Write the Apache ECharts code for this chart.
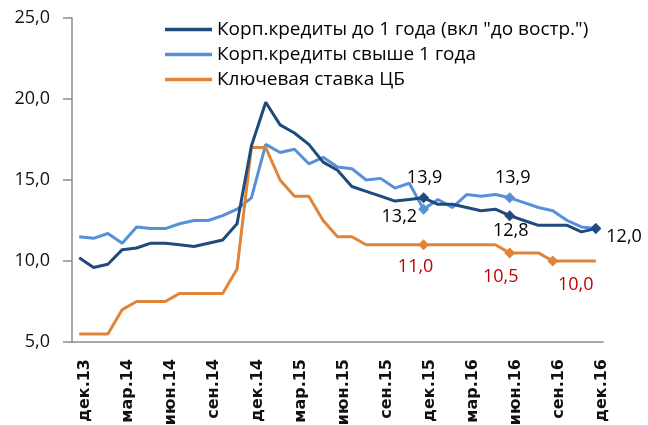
<!DOCTYPE html>
<html>
<head>
<meta charset="utf-8">
<script src="https://cdn.jsdelivr.net/npm/echarts@6/dist/echarts.min.js"></script>
<style>
  html, body { margin: 0; padding: 0; background: #fff; }
  #chart { width: 648px; height: 425px; }
</style>
</head>
<body>
<div id="chart"></div>
<script>
// months, Dec 2013 .. Dec 2016
const months = [
  "дек.13", "янв.14", "фев.14", "мар.14", "апр.14", "май.14", "июн.14", "июл.14", "авг.14",
  "сен.14", "окт.14", "ноя.14", "дек.14", "янв.15", "фев.15", "мар.15", "апр.15", "май.15",
  "июн.15", "июл.15", "авг.15", "сен.15", "окт.15", "ноя.15", "дек.15", "янв.16", "фев.16",
  "мар.16", "апр.16", "май.16", "июн.16", "июл.16", "авг.16", "сен.16", "окт.16", "ноя.16", "дек.16"
];

// Корп.кредиты до 1 года
const shortLoans = [
  10.2, 9.6, 9.8, 10.7, 10.8, 11.1, 11.1, 11.0, 10.9,
  11.1, 11.3, 12.3, 17.1, 19.8, 18.4, 17.9, 17.2, 16.1,
  15.6, 14.6, 14.3, 14.0, 13.7, 13.8, 13.9, 13.5, 13.5,
  13.3, 13.1, 13.2, 12.8, 12.5, 12.2, 12.2, 12.2, 11.8, 12.0
];

// Корп.кредиты свыше 1 года
const longLoans = [
  11.5, 11.4, 11.7, 11.1, 12.1, 12.0, 12.0, 12.3, 12.5,
  12.5, 12.8, 13.2, 13.9, 17.2, 16.7, 16.9, 16.0, 16.4,
  15.8, 15.7, 15.0, 15.1, 14.5, 14.8, 13.2, 13.8, 13.3,
  14.1, 14.0, 14.1, 13.9, 13.6, 13.3, 13.1, 12.5, 12.1, 12.0
];

// Ключевая ставка ЦБ
const keyRate = [
  5.5, 5.5, 5.5, 7.0, 7.5, 7.5, 7.5, 8.0, 8.0,
  8.0, 8.0, 9.5, 17.0, 17.0, 15.0, 14.0, 14.0, 12.5,
  11.5, 11.5, 11.0, 11.0, 11.0, 11.0, 11.0, 11.0, 11.0,
  11.0, 11.0, 11.0, 10.5, 10.5, 10.5, 10.0, 10.0, 10.0, 10.0
];

const seriesNames = ["Корп.кредиты до 1 года (вкл \"до востр.\")", "Корп.кредиты свыше 1 года", "Ключевая ставка ЦБ"];
const yTicks = [5, 10, 15, 20, 25];

// which points carry a diamond marker
const shortMarks = [24, 30, 36];
const longMarks = [24, 30, 36];
const rateMarks = [24, 30, 33];

const fmt = (v) => v.toFixed(1).replace(".", ",");
const FONT = "'Open Sans', 'Noto Sans', sans-serif";

// label placement per marked point (index -> label style)
const shortLbl = {
  24: { position: "top", offset: [1, 0] },
  30: { position: "bottom", offset: [1, -4] },
  36: { position: "right", offset: [0, 8] }
};
const longLbl = {
  24: { position: "left", offset: [4, 8] },
  30: { position: "top", offset: [3, 0] }
};
const rateLbl = {
  24: { position: "bottom", offset: [-8, 3], color: "#c00000" },
  30: { position: "bottom", offset: [-9, 4], color: "#c00000" },
  33: { position: "bottom", offset: [23, 4], color: "#c00000" }
};

function buildData(values, marks, labels) {
  return values.map((v, i) => {
    if (marks.indexOf(i) < 0) return v;
    const lbl = labels[i];
    return {
      value: v,
      symbol: "diamond",
      symbolSize: 11,
      label: lbl ? Object.assign({ show: true, formatter: (p) => fmt(p.value) }, lbl) : { show: false }
    };
  });
}

function lineSeries(name, color, data) {
  return {
    name: name,
    type: "line",
    data: data,
    symbol: "none",
    showSymbol: true,
    showAllSymbol: true,
    lineStyle: { color: color, width: 3 },
    itemStyle: { color: color },
    label: { fontFamily: FONT, fontSize: 18, color: "#000" },
    emphasis: { disabled: true },
    animation: false
  };
}

const chart = echarts.init(document.getElementById("chart"), null, { renderer: "canvas" });
chart.setOption({
  animation: false,
  textStyle: { fontFamily: FONT },
  grid: { left: 72, right: 45, top: 18, bottom: 83, containLabel: false, outerBoundsMode: "none" },
  legend: {
    orient: "vertical",
    left: 165,
    top: 20,
    padding: 0,
    icon: "rect",
    itemWidth: 47,
    itemHeight: 3.5,
    itemGap: 6,
    textStyle: { fontFamily: FONT, fontSize: 19, color: "#000" },
    data: seriesNames
  },
  xAxis: {
    type: "category",
    data: months,
    boundaryGap: true,
    axisLine: { lineStyle: { color: "#8c8c8c", width: 1.5 } },
    axisTick: { interval: 2, length: 6, lineStyle: { color: "#8c8c8c", width: 1.5 } },
    axisLabel: {
      interval: 2,
      rotate: 90,
      margin: 17,
      verticalAlign: "top",
      lineHeight: 12,
      fontFamily: "'DejaVu Sans', sans-serif",
      fontWeight: "bold",
      fontSize: 16,
      color: "#111"
    },
    splitLine: { show: false }
  },
  yAxis: {
    type: "value",
    min: yTicks[0],
    max: yTicks[yTicks.length - 1],
    interval: 5,
    axisLine: { show: true, lineStyle: { color: "#8c8c8c", width: 1.5 } },
    axisTick: { show: true, length: 9, lineStyle: { color: "#8c8c8c", width: 1.5 } },
    axisLabel: { margin: 22, fontFamily: FONT, fontSize: 18, color: "#111", formatter: fmt },
    splitLine: { show: false }
  },
  series: [
    lineSeries(seriesNames[1], "#5590d8", buildData(longLoans, longMarks, longLbl)),
    lineSeries(seriesNames[2], "#e0843a", buildData(keyRate, rateMarks, rateLbl)),
    lineSeries(seriesNames[0], "#1f4a7c", buildData(shortLoans, shortMarks, shortLbl))
  ]
});
</script>
</body>
</html>
